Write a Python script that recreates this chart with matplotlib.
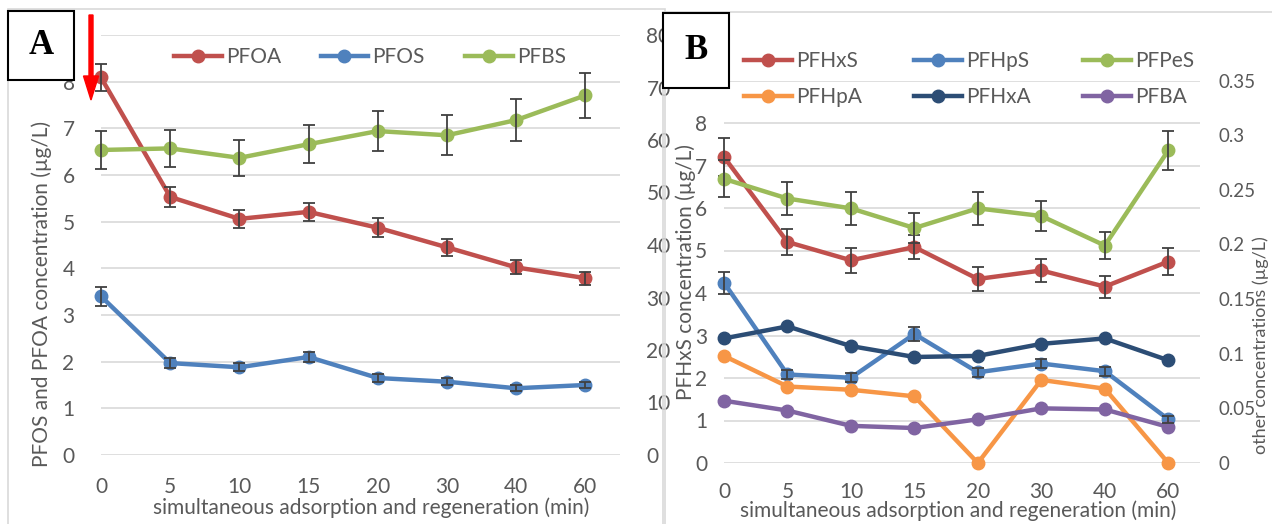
import matplotlib.pyplot as plt
import matplotlib.patches as mpatches
import numpy as np

plt.rcParams['font.family'] = ['Lato', 'DejaVu Sans']

# data
times = ['0', '5', '10', '15', '20', '30', '40', '60']

# panel A (PFOA, PFOS on left axis, PFBS on right axis)
pfoa = [8.09, 5.53, 5.06, 5.21, 4.87, 4.45, 4.02, 3.79]
pfoa_err = [0.29, 0.22, 0.20, 0.19, 0.20, 0.18, 0.15, 0.14]
pfos = [3.40, 1.97, 1.88, 2.10, 1.65, 1.57, 1.43, 1.50]
pfos_err = [0.20, 0.10, 0.09, 0.10, 0.08, 0.07, 0.06, 0.07]
pfbs = [58.1, 58.4, 56.6, 59.2, 61.7, 60.9, 63.8, 68.5]
pfbs_err = [3.6, 3.6, 3.4, 3.6, 3.8, 3.8, 4.0, 4.3]

# panel B (PFHxS on left axis, the others on right axis)
pfhxs = [7.20, 5.20, 4.77, 5.08, 4.33, 4.53, 4.15, 4.74]
pfhxs_err = [0.45, 0.31, 0.29, 0.29, 0.28, 0.28, 0.26, 0.31]
pfhps = [0.165, 0.081, 0.078, 0.118, 0.083, 0.091, 0.084, 0.040]
pfhps_err = [0.010, 0.004, 0.004, 0.006, 0.004, 0.004, 0.004, 0.003]
pfpes = [0.260, 0.242, 0.233, 0.215, 0.233, 0.226, 0.199, 0.286]
pfpes_err = [0.017, 0.015, 0.015, 0.014, 0.015, 0.014, 0.012, 0.018]
pfhpa = [0.098, 0.070, 0.067, 0.061, 0.0, 0.076, 0.068, 0.0]
pfhxa = [0.114, 0.125, 0.107, 0.097, 0.098, 0.109, 0.114, 0.094]
pfba = [0.057, 0.048, 0.034, 0.032, 0.040, 0.050, 0.049, 0.033]

other_ticks = [0, 0.05, 0.1, 0.15, 0.2, 0.25, 0.3, 0.35]
other_labels = ['0', '0.05', '0.1', '0.15', '0.2', '0.25', '0.3', '0.35']

RED = '#C0504D'
BLUE = '#4F81BD'
GREEN = '#9BBB59'
ORANGE = '#F79646'
NAVY = '#2C4D75'
PURPLE = '#8064A2'
TXT = '#595959'
GRID = '#D9D9D9'
EBAR = '#404040'
FS = 15

W, H = 1272, 524
fig = plt.figure(figsize=(W / 100, H / 100), dpi=100)


def box(x0, y0, x1, y1):
    return [x0 / W, 1 - y1 / H, (x1 - x0) / W, (y1 - y0) / H]


def fpt(x, y):
    return (x / W, 1 - y / H)


x = np.arange(len(times))

# chart area borders
fig.patches.append(mpatches.Rectangle(fpt(8, 530), 657 / W, 521 / H, transform=fig.transFigure,
                                      fill=False, edgecolor=GRID, lw=1.2))
fig.patches.append(mpatches.Rectangle(fpt(663, 530), 620 / W, 518 / H, transform=fig.transFigure,
                                      fill=False, edgecolor=GRID, lw=1.2))


def style(ax, pad, size=FS):
    for s in ax.spines.values():
        s.set_visible(False)
    ax.tick_params(length=0, colors=TXT, labelsize=size, pad=pad)
    ax.set_facecolor('none')


def series(ax, y, c, lab, err=None):
    ln, = ax.plot(x, y, color=c, lw=3.2, marker='o', ms=9, label=lab, clip_on=False, zorder=3)
    if err is not None:
        ax.errorbar(x, y, yerr=err, fmt='none', ecolor=EBAR, elinewidth=1.3, capsize=4,
                    capthick=1.3, clip_on=False, zorder=4)
    return ln


# ---------- panel A ----------
axA = fig.add_axes(box(101, 35, 620, 455))
axA2 = axA.twinx()
axA.set_xlim(0, 7.5)
axA.set_ylim(0, 9)
axA.set_yticks(range(0, 10))
axA2.set_ylim(0, 80)
axA2.set_yticks(range(0, 81, 10))
axA.set_xticks(x)
axA.set_xticklabels(times)
axA.grid(axis='y', color=GRID, lw=1.2)
axA.set_axisbelow(True)
style(axA, 19)
style(axA2, 19)
axA.tick_params(axis='x', pad=16)

h1 = series(axA, pfoa, RED, 'PFOA', pfoa_err)
h2 = series(axA, pfos, BLUE, 'PFOS', pfos_err)
h3 = series(axA2, pfbs, GREEN, 'PFBS', pfbs_err)

fig.legend([h1, h2, h3], ['PFOA', 'PFOS', 'PFBS'], ncol=3, loc='center left',
           bbox_to_anchor=fpt(155, 57), frameon=False, fontsize=FS, labelcolor=TXT,
           handlelength=2.3, handletextpad=0.2, columnspacing=1.9)

fig.text(42 / W, 1 - 294 / H, 'PFOS and PFOA concentration (µg/L)', rotation=90,
         ha='center', va='center', color=TXT, fontsize=FS)
fig.text(371 / W, 1 - 508 / H, 'simultaneous adsorption and regeneration (min)',
         ha='center', va='center', color=TXT, fontsize=FS)

# ---------- panel B ----------
axB = fig.add_axes(box(724, 80.5, 1200, 463))
axB2 = axB.twinx()
axB.set_xlim(0, 7.5)
axB.set_ylim(0, 9)
axB.set_yticks(range(0, 10))
axB.set_yticklabels([str(i) for i in range(0, 9)] + [''])
axB2.set_ylim(0, 0.35)
axB2.set_yticks(other_ticks)
axB2.set_yticklabels(other_labels)
axB.set_xticks(x)
axB.set_xticklabels(times)
axB.grid(axis='y', color=GRID, lw=1.2)
axB.set_axisbelow(True)
style(axB, 12)
style(axB2, 13, 13.5)
axB.tick_params(axis='x', pad=14)

b1 = series(axB, pfhxs, RED, 'PFHxS', pfhxs_err)
b2 = series(axB2, pfhps, BLUE, 'PFHpS', pfhps_err)
b3 = series(axB2, pfpes, GREEN, 'PFPeS', pfpes_err)
b4 = series(axB2, pfhpa, ORANGE, 'PFHpA')
b5 = series(axB2, pfhxa, NAVY, 'PFHxA')
b6 = series(axB2, pfba, PURPLE, 'PFBA')

fig.legend([b1, b4, b2, b5, b3, b6], ['PFHxS', 'PFHpA', 'PFHpS', 'PFHxA', 'PFPeS', 'PFBA'],
           ncol=3, loc='center left', bbox_to_anchor=fpt(725, 79), frameon=False,
           fontsize=FS, labelcolor=TXT, handlelength=2.3, handletextpad=0.2,
           columnspacing=2.5, labelspacing=0.75)

fig.text(686 / W, 1 - 272 / H, 'PFHxS concentration (µg/L)', rotation=90,
         ha='center', va='center', color=TXT, fontsize=FS)
fig.text(1261 / W, 1 - 345 / H, 'other concentrations (µg/L)', rotation=90,
         ha='center', va='center', color=TXT, fontsize=13)
fig.text(958 / W, 1 - 511 / H, 'simultaneous adsorption and regeneration (min)',
         ha='center', va='center', color=TXT, fontsize=FS)

# panel letters
for (x0, y0, x1, y1, s) in [(8, 11, 74, 80, 'A'), (663, 13, 729, 88, 'B')]:
    fig.patches.append(mpatches.Rectangle(fpt(x0, y1), (x1 - x0) / W, (y1 - y0) / H,
                                          transform=fig.transFigure, facecolor='white',
                                          edgecolor='black', lw=1.5, zorder=5))
    fig.text((x0 + x1) / 2 / W, 1 - (y0 + y1) / 2 / H, s, ha='center', va='center',
             fontsize=25, fontweight='bold', family='Liberation Serif', zorder=6)

# red arrow
fig.patches.append(mpatches.FancyArrow(91 / W, 1 - 15 / H, 0, -85 / H, width=4 / W,
                                       head_width=15 / W, head_length=24 / H,
                                       length_includes_head=True, transform=fig.transFigure,
                                       color='red', zorder=6))

fig.savefig('out.png', dpi=100)
